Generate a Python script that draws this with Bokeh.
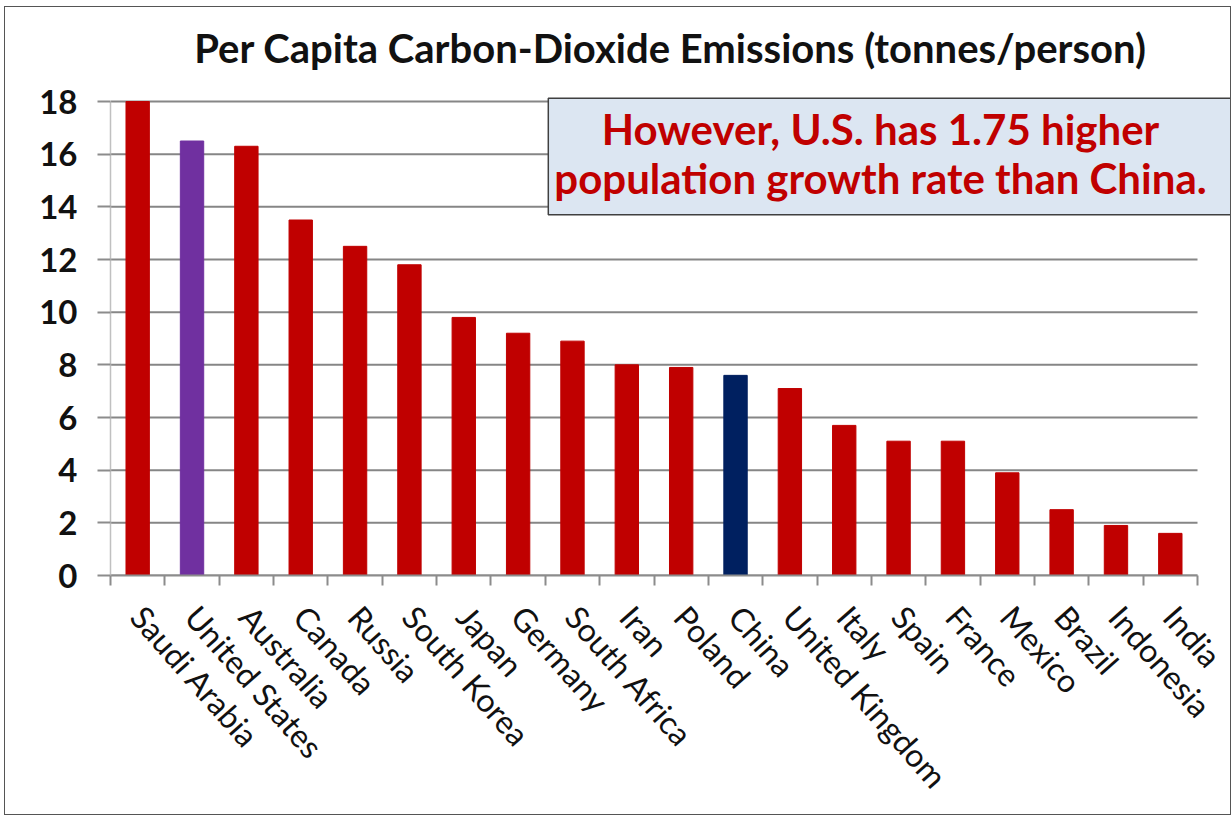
from bokeh.plotting import figure
from bokeh.models import FixedTicker, Label, Range1d, ColumnDataSource
from bokeh.embed import file_html
from bokeh.resources import INLINE

# ---- data ----
countries = ["Saudi Arabia", "United States", "Australia", "Canada", "Russia",
             "South Korea", "Japan", "Germany", "South Africa", "Iran", "Poland",
             "China", "United Kingdom", "Italy", "Spain", "France", "Mexico",
             "Brazil", "Indonesia", "India"]
emissions = [18.0, 16.5, 16.3, 13.5, 12.5, 11.8, 9.8, 9.2, 8.9, 8.0, 7.9,
             7.6, 7.1, 5.7, 5.1, 5.1, 3.9, 2.5, 1.9, 1.6]
highlight = {"United States": "#7030A0", "China": "#002060"}
default_color = "#C00000"
y_ticks = [0, 2, 4, 6, 8, 10, 12, 14, 16, 18]
title_text = "Per Capita Carbon-Dioxide Emissions (tonnes/person)"
note_text = "However, U.S. has 1.75 higher\npopulation growth rate than China."

FONT = "Lato"

# ---- layout (page pixels) ----
W, H = 1225, 807            # canvas size
ML, MT = 5, 7               # canvas offset on the page
AX_L, AX_R = 110, 1197      # category axis extent
AX_T, AX_B = 101, 575       # value axis extent (top = max tick)
FR_R, FR_T = ML + W, MT     # frame is stretched so the box/title are not clipped

n = len(countries)
positions = list(range(n))
colors = [highlight.get(c, default_color) for c in countries]
source = ColumnDataSource(dict(x=positions, top=emissions, color=colors, name=countries))

x0, x1 = -0.5, n - 0.5
x_end = x0 + (x1 - x0) * (FR_R - AX_L) / (AX_R - AX_L)
y_max = max(y_ticks)
y_end = y_max * (AX_B - FR_T) / (AX_B - AX_T)

p = figure(width=W, height=H, output_backend="svg", toolbar_location=None,
           x_range=Range1d(x0, x_end), y_range=Range1d(0, y_end),
           min_border_left=AX_L - ML, min_border_right=0, min_border_top=0,
           min_border_bottom=MT + H - AX_B)
p.margin = (MT, 0, 0, ML)
p.styles = {"outline": "1.5px solid #555555"}
p.outline_line_color = None
p.background_fill_color = "white"
p.border_fill_color = "white"

# horizontal gridlines, limited to the category extent
grid_src = ColumnDataSource(dict(y=y_ticks, x0=[x0] * len(y_ticks), x1=[x1] * len(y_ticks)))
gr = p.segment(x0="x0", x1="x1", y0="y", y1="y", source=grid_src,
               line_color="#868686", line_width=2)
gr.level = "underlay"

p.vbar(x="x", top="top", width=0.43, color="color", source=source)

# x axis: labels at centres, tick marks at category boundaries
xa = p.xaxis[0]
xa.bounds = (x0, x1)
xa.ticker = FixedTicker(ticks=positions,
                        minor_ticks=[i - 0.5 for i in range(n + 1)])
xa.major_label_overrides = {i: c for i, c in enumerate(countries)}
xa.major_label_orientation = -0.85
xa.major_label_text_font = FONT
xa.major_label_text_font_size = "32px"
xa.major_label_text_color = "#111111"
xa.major_tick_out = 0
xa.major_tick_in = 0
xa.minor_tick_out = 10
xa.minor_tick_in = 0
xa.minor_tick_line_color = "#8c8c8c"
xa.minor_tick_line_width = 2
xa.axis_line_color = "#8c8c8c"
xa.axis_line_width = 2
xa.major_label_standoff = 25

ya = p.yaxis[0]
ya.bounds = (0, y_max)
ya.ticker = FixedTicker(ticks=y_ticks, minor_ticks=[])
ya.major_label_text_font = FONT
ya.major_label_text_font_size = "33px"
ya.major_label_text_font_style = "bold"
ya.major_label_text_color = "#111111"
ya.major_tick_out = 13
ya.major_tick_in = 0
ya.major_tick_line_color = "#8c8c8c"
ya.major_tick_line_width = 2
ya.axis_line_color = "#c0c0c0"
ya.axis_line_width = 1.5
ya.major_label_standoff = 20

p.xgrid.grid_line_color = None
p.ygrid.grid_line_color = None

# screen units are measured from the frame's bottom-left corner
title = Label(x=670 - AX_L, y=AX_B - 47, x_units="screen", y_units="screen",
              text=title_text, text_align="center", text_baseline="middle",
              text_font=FONT, text_font_style="bold", text_font_size="40px",
              text_color="#111111")
p.add_layout(title)

note = Label(x=892 - AX_L, y=AX_B - 156, x_units="screen", y_units="screen",
             text=note_text, text_align="center", text_baseline="middle",
             text_font=FONT, text_font_style="bold", text_font_size="42px",
             text_color="#C00000", text_line_height=0.97,
             background_fill_color="#DCE6F2", border_line_color="#404040",
             border_line_width=1.5, padding=(6, 30, 6, 12))
p.add_layout(note)

open("out.html", "w").write(file_html(p, INLINE))
